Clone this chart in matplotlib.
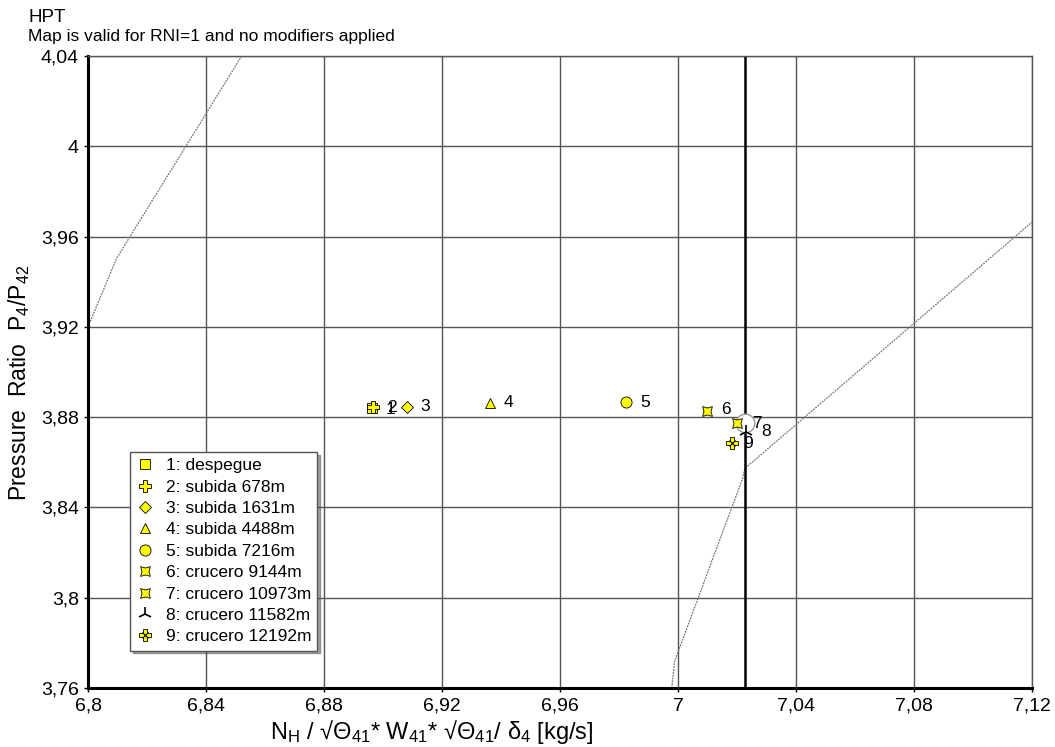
import matplotlib
matplotlib.use("Agg")
import matplotlib.pyplot as plt
from matplotlib.ticker import FuncFormatter, FixedLocator
from matplotlib.legend_handler import HandlerTuple

plt.rcParams['font.family'] = ['Liberation Sans', 'DejaVu Sans']
plt.rcParams['mathtext.fontset'] = 'custom'
plt.rcParams['mathtext.rm'] = 'Liberation Sans'
plt.rcParams['mathtext.it'] = 'Liberation Sans'

# Operating points
point_labels = ["1", "2", "3", "4", "5", "6", "7", "8", "9"]
legend_names = ["1: despegue", "2: subida 678m", "3: subida 1631m", "4: subida 4488m",
                "5: subida 7216m", "6: crucero 9144m", "7: crucero 10973m",
                "8: crucero 11582m", "9: crucero 12192m"]
x_vals = [6.8963, 6.8966, 6.9081, 6.9363, 6.9824, 7.0098, 7.0200, 7.0229, 7.0183]
y_vals = [3.8840, 3.8843, 3.8845, 3.8863, 3.8867, 3.8827, 3.8774, 3.8735, 3.8685]

# Design point
design_x = [7.0227]
design_y = [3.8774]

# Map lines
line1_x = [6.8000, 6.8097, 6.8521]
line1_y = [3.9200, 3.9504, 4.0400]
line2_x = [6.9979, 6.9988, 7.0217, 7.0227, 7.1200]
line2_y = [3.7600, 3.7717, 3.8521, 3.8573, 3.9664]
vline_x = 7.0227

x_ticks = [6.8, 6.84, 6.88, 6.92, 6.96, 7.0, 7.04, 7.08, 7.12]
y_ticks = [3.76, 3.8, 3.84, 3.88, 3.92, 3.96, 4.0, 4.04]

fig = plt.figure(figsize=(10.55, 7.47), dpi=100)
ax = fig.add_axes([88/1055, 1-688/747, (1032-88)/1055, (688-56)/747])
ax.set_xlim(6.8, 7.12)
ax.set_ylim(3.76, 4.04)

ax.xaxis.set_major_locator(FixedLocator(x_ticks))
ax.yaxis.set_major_locator(FixedLocator(y_ticks))
fmt = FuncFormatter(lambda v, p: ("%g" % round(v, 4)).replace('.', ','))
ax.xaxis.set_major_formatter(fmt)
ax.yaxis.set_major_formatter(fmt)
ax.tick_params(axis='both', labelsize=14, length=3, width=1, direction='out', colors='black')
ax.tick_params(axis='x', pad=4)
ax.grid(True, color='#555555', linewidth=1.0)
ax.set_axisbelow(True)
for s in ['left', 'bottom']:
    ax.spines[s].set_linewidth(2.2)
    ax.spines[s].set_color('black')
for s in ['top', 'right']:
    ax.spines[s].set_linewidth(1.0)
    ax.spines[s].set_color('#555555')

ax.plot(line1_x, line1_y, color='#777777', lw=0.9, ls=(0, (1.5, 0.8)), zorder=2)
ax.plot(line2_x, line2_y, color='#777777', lw=0.9, ls=(0, (1.5, 0.8)), zorder=2)
ax.axvline(vline_x, color='black', lw=1.8, zorder=2)

ax.scatter(design_x, design_y, s=180, facecolor='white', edgecolor='#999999', lw=1, zorder=4)

yellow = '#ffff00'
markers = ['s', 'P', 'D', '^', 'o', (4, 1, 45), (4, 1, 45), '2', 'P']
sizes = [7, 8, 6, 7, 8, 10, 10, 10, 9]
handles = []
for i in range(len(x_vals)):
    m = markers[i]
    if m == '2':
        h, = ax.plot(x_vals[i], y_vals[i], ls='none', marker=m, ms=sizes[i], color='black',
                     mew=1.2, zorder=5)
    else:
        h, = ax.plot(x_vals[i], y_vals[i], ls='none', marker=m, ms=sizes[i], mfc=yellow,
                     mec='black', mew=0.6, zorder=5)
    if i == 8:
        h2, = ax.plot(x_vals[i], y_vals[i], ls='none', marker='x', ms=4, color='black',
                      mew=0.8, zorder=6)
        handles.append((h, h2))
    else:
        handles.append(h)

offsets = [(10, -1), (10, 0), (10, 0), (10, 0), (10, 0), (10, 1), (11, 0), (11, 0), (8, 0)]
for i, lab in enumerate(point_labels):
    ax.annotate(lab, (x_vals[i], y_vals[i]), xytext=offsets[i], textcoords='offset points',
                fontsize=12.5, color='black', va='center', ha='left', zorder=7)

leg = ax.legend(handles, legend_names, loc='upper left',
                bbox_to_anchor=((130-88)/944, 1-(452-56)/632), borderaxespad=0,
                frameon=True, fancybox=False, shadow=True,
                handler_map={tuple: HandlerTuple(ndivide=1, pad=0)},
                handlelength=1.0, handletextpad=0.7, borderpad=0.35, labelspacing=0.36,
                prop={'family': ['Liberation Sans', 'DejaVu Sans'], 'size': 12.5})
leg.get_frame().set_edgecolor('#555555')
leg.get_frame().set_linewidth(1.0)
leg.set_zorder(10)

ax.set_ylabel(r'Pressure  Ratio  P$_4$/P$_{42}$', fontsize=16.5)
ax.yaxis.set_label_coords((32-88)/944, (688-383)/632)
ax.set_xlabel('N$_H$ / √Θ$_{41}$* W$_{41}$* √Θ$_{41}$/ δ$_4$ [kg/s]', fontsize=17, labelpad=2)
ax.xaxis.label.set_x((432-88)/944)

fig.text(28/1055, 1-17/747, 'HPT', fontsize=13.5, va='center', ha='left')
fig.text(28/1055, 1-36/747, 'Map is valid for RNI=1 and no modifiers applied', fontsize=12.5,
         va='center', ha='left')

fig.savefig('out.png', dpi=100)
